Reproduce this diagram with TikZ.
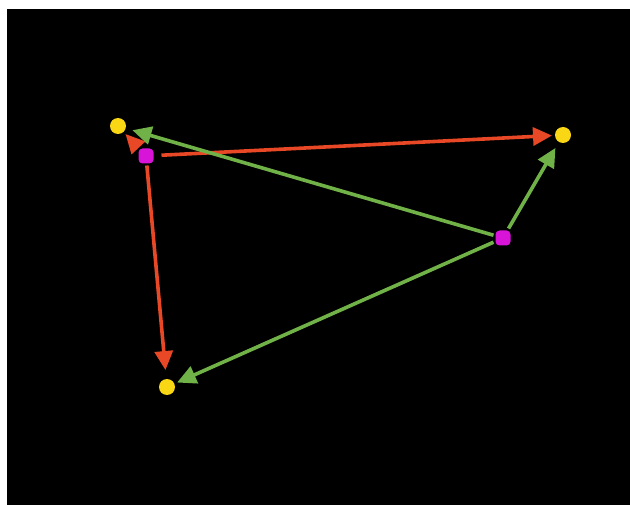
\documentclass[tikz,border=0pt]{standalone}
\usepackage{tikz}
\usetikzlibrary{arrows.meta}
\definecolor{dotyellow}{RGB}{250,215,20}
\definecolor{dotmagenta}{RGB}{215,20,215}
\definecolor{arrred}{RGB}{232,72,38}
\definecolor{arrgreen}{RGB}{112,178,72}
\begin{document}
\begin{tikzpicture}[
  x=1pt, y=-1pt,
  target/.style={circle, fill=dotyellow, inner sep=0pt, minimum size=16pt, outer sep=3pt},
  source/.style={rectangle, rounded corners=4pt, fill=dotmagenta, inner sep=0pt, minimum size=15pt, outer sep=2pt},
  redarr/.style={draw=arrred, fill=arrred, line width=3.6pt, -{Triangle[length=19pt,width=18pt]}},
  greenarr/.style={draw=arrgreen, fill=arrgreen, line width=3.6pt, -{Triangle[length=19pt,width=18pt]}},
]
  \useasboundingbox (0,0) rectangle (630,505);
  \fill[black] (7,9) rectangle (630,505);

  % Nodes
  \node[target] (T1) at (118,126) {};
  \node[target] (T2) at (563,135) {};
  \node[target] (T3) at (167,387) {};
  \node[source] (S1) at (146,156) {};
  \node[source] (S2) at (503,238) {};

  % Edges
  \draw[redarr, shorten <=6pt] (S1) -- (T2);
  \draw[redarr, shorten >=6pt] (S1) -- (T3);
  \draw[redarr] (S1) -- (T1);
  \draw[greenarr, shorten >=4pt] (S2) -- (T1);
  \draw[greenarr, shorten >=4pt] (S2) -- (T2);
  \draw[greenarr] (S2) -- (T3);
\end{tikzpicture}
\end{document}
